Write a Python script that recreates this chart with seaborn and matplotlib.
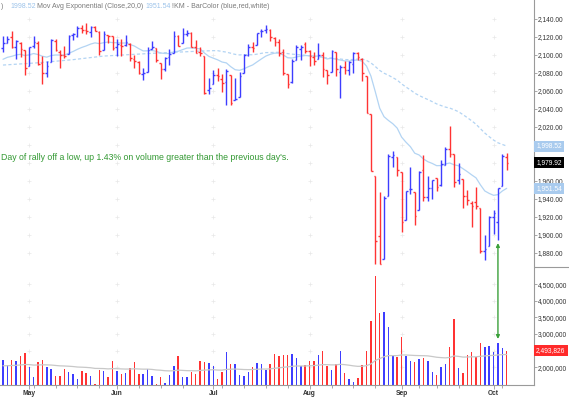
import numpy as np
import pandas as pd
import matplotlib
matplotlib.use("Agg")
import matplotlib.pyplot as plt
import seaborn as sns
from matplotlib.lines import Line2D
from matplotlib.ticker import FuncFormatter, FixedLocator
import matplotlib.transforms as mtransforms

sns.set_style("white")
plt.rcParams['font.family'] = ['Liberation Sans', 'DejaVu Sans']

# ---------------- data ----------------
holidays = pd.to_datetime(["2015-05-25", "2015-07-03", "2015-09-07"])
dates = pd.bdate_range("2015-04-23", "2015-10-06")
dates = dates[~dates.isin(holidays)]

prev_close_before = 2107.96

opens = [2107.2, 2112.8, 2119.3, 2108.4, 2112.5, 2105.5, 2087.4, 2110.2, 2112.6, 2091.3,
         2079.9, 2092.1, 2115.6, 2102.9, 2099.6, 2100.4, 2122.1, 2121.3, 2129.5, 2127.8,
         2125.6, 2130.4, 2125.3, 2105.1, 2122.3, 2120.7, 2108.6, 2110.4, 2110.6, 2112.4,
         2095.1, 2092.3, 2079.1, 2081.0, 2106.2, 2107.4, 2091.3, 2084.3, 2097.4, 2101.6,
         2121.1, 2112.5, 2123.0, 2123.7, 2109.1, 2102.6, 2098.6, 2061.2, 2067.0, 2078.0,
         2073.0, 2069.5, 2077.7, 2049.7, 2052.7, 2080.0, 2099.7, 2109.0, 2110.6, 2126.8,
         2126.9, 2127.6, 2118.2, 2114.2, 2103.0, 2078.2, 2070.0, 2094.0, 2106.8, 2111.6,
         2104.5, 2097.7, 2095.3, 2100.0, 2082.6, 2080.9, 2102.7, 2081.1, 2086.2, 2083.2,
         2089.7, 2101.5, 2095.7, 2076.6, 2034.1, 1965.2, 1898.1, 1872.8, 1942.8, 1986.1,
         1986.7, 1970.1, 1916.5, 1950.8, 1947.8, 1927.3, 1971.5, 1941.6, 1951.5, 1963.1,
         1955.1, 1978.0, 1995.3, 1989.7, 1960.8, 1961.4, 1943.2, 1934.8, 1935.9, 1929.2,
         1881.9, 1887.1, 1919.7, 1913.9, 1954.3, 1986.6]
highs = [2120.5, 2120.9, 2125.9, 2116.0, 2113.6, 2105.5, 2108.4, 2120.9, 2115.2, 2098.4,
         2092.9, 2117.7, 2117.7, 2105.1, 2110.2, 2121.5, 2123.9, 2131.8, 2133.0, 2134.7,
         2131.8, 2132.2, 2126.2, 2126.1, 2122.3, 2120.7, 2117.6, 2117.6, 2121.9, 2112.9,
         2100.2, 2093.0, 2085.7, 2108.5, 2115.0, 2107.4, 2091.3, 2097.4, 2106.8, 2126.6,
         2121.6, 2130.0, 2127.6, 2125.1, 2116.0, 2108.9, 2098.6, 2074.3, 2082.8, 2085.1,
         2078.6, 2083.7, 2077.7, 2074.3, 2081.3, 2100.7, 2111.4, 2114.2, 2124.4, 2128.8,
         2132.8, 2128.9, 2119.6, 2116.9, 2106.0, 2078.2, 2095.6, 2110.6, 2110.5, 2114.2,
         2105.7, 2102.5, 2112.7, 2103.3, 2082.6, 2105.4, 2102.7, 2089.1, 2092.9, 2092.5,
         2102.9, 2103.5, 2096.2, 2076.6, 2034.1, 1965.2, 1948.0, 1943.1, 1989.6, 1993.5,
         1986.7, 1970.1, 1948.9, 1975.0, 1947.8, 1970.4, 1988.6, 1965.3, 1961.1, 1963.1,
         1983.2, 1997.3, 2020.9, 1989.7, 1979.6, 1961.4, 1949.5, 1937.2, 1952.9, 1929.2,
         1899.5, 1920.5, 1927.2, 1951.4, 1989.2, 1991.0]
lows = [2103.2, 2112.8, 2107.0, 2094.9, 2097.4, 2077.6, 2087.4, 2108.0, 2088.5, 2067.9,
        2075.0, 2092.1, 2104.6, 2085.7, 2096.0, 2100.4, 2116.8, 2120.0, 2124.5, 2122.6,
        2120.0, 2126.1, 2099.2, 2105.1, 2112.8, 2104.9, 2099.1, 2099.1, 2109.6, 2093.2,
        2085.7, 2079.1, 2072.1, 2081.0, 2106.2, 2091.8, 2072.5, 2082.1, 2088.9, 2101.6,
        2109.5, 2112.5, 2120.5, 2108.4, 2101.8, 2098.4, 2056.6, 2056.3, 2067.0, 2071.0,
        2058.4, 2044.0, 2044.5, 2049.7, 2052.7, 2080.0, 2098.2, 2102.5, 2110.6, 2119.9,
        2123.7, 2115.4, 2110.0, 2098.6, 2077.1, 2063.5, 2069.1, 2094.0, 2094.1, 2102.1,
        2087.3, 2088.6, 2095.3, 2075.5, 2067.9, 2080.9, 2076.5, 2052.1, 2078.3, 2077.6,
        2079.3, 2094.1, 2070.5, 2035.7, 1970.9, 1867.0, 1867.1, 1872.8, 1942.8, 1975.2,
        1965.5, 1903.1, 1916.5, 1944.7, 1911.2, 1927.3, 1937.9, 1937.2, 1939.2, 1948.3,
        1954.3, 1977.9, 1986.7, 1953.5, 1955.8, 1929.3, 1932.6, 1908.9, 1928.8, 1879.2,
        1871.9, 1887.1, 1900.7, 1893.7, 1954.3, 1971.9]
closes = [2112.93, 2117.69, 2108.92, 2114.76, 2106.85, 2085.51, 2108.29, 2114.49, 2089.46, 2080.15,
          2088.00, 2116.10, 2105.33, 2099.12, 2098.48, 2121.10, 2122.73, 2129.20, 2127.83, 2125.85,
          2130.82, 2126.06, 2104.20, 2123.48, 2120.79, 2107.39, 2111.73, 2109.60, 2114.07, 2095.84,
          2092.83, 2079.28, 2080.15, 2105.20, 2108.86, 2094.11, 2084.43, 2096.29, 2100.44, 2121.24,
          2109.99, 2122.85, 2124.20, 2108.58, 2102.31, 2101.49, 2057.64, 2063.11, 2077.42, 2076.78,
          2068.76, 2081.34, 2046.68, 2051.31, 2076.62, 2099.60, 2108.95, 2107.40, 2124.29, 2126.64,
          2128.28, 2119.21, 2114.15, 2102.15, 2079.65, 2067.64, 2093.25, 2108.57, 2108.63, 2103.84,
          2098.04, 2093.32, 2099.84, 2083.56, 2077.57, 2104.18, 2084.07, 2086.05, 2083.39, 2091.54,
          2102.44, 2096.92, 2079.61, 2035.73, 1970.89, 1893.21, 1867.61, 1940.51, 1987.66, 1988.87,
          1972.18, 1913.85, 1948.86, 1951.13, 1921.22, 1969.41, 1942.04, 1952.29, 1961.05, 1953.03,
          1978.09, 1995.31, 1990.20, 1958.03, 1966.97, 1942.74, 1938.76, 1932.24, 1931.34, 1881.77,
          1884.09, 1920.03, 1923.82, 1951.36, 1987.05, 1979.92]
volume_m = [2.22, 2.06, 2.22, 2.19, 2.33, 2.42, 2.01, 1.71, 2.15, 2.21,
            2.01, 1.95, 1.75, 1.75, 1.94, 1.86, 1.79, 1.65, 1.88, 1.84,
            1.74, 1.49, 1.92, 1.88, 1.70, 2.19, 1.88, 1.79, 1.84, 1.98,
            2.15, 1.79, 1.81, 1.96, 1.74, 1.51, 1.71, 1.53, 1.77, 2.03,
            2.35, 1.71, 1.71, 1.85, 1.79, 2.19, 2.16, 2.13, 2.05, 1.65,
            1.86, 2.46, 2.09, 2.09, 1.76, 1.74, 1.86, 2.02, 2.13, 2.10,
            1.92, 2.11, 2.40, 2.35, 2.36, 2.37, 2.39, 2.28, 2.03, 2.08,
            2.19, 2.19, 2.37, 2.49, 2.03, 1.91, 2.10, 2.50, 1.83, 1.65,
            1.55, 1.68, 2.08, 2.49, 3.39, 4.75, 3.64, 3.67, 3.20, 2.34,
            2.32, 2.90, 2.33, 2.20, 2.17, 2.25, 2.28, 2.20, 1.87, 1.77,
            2.01, 2.10, 2.60, 3.46, 1.98, 1.82, 2.36, 2.45, 2.31, 2.73,
            2.60, 2.64, 2.46, 2.73, 2.58, 2.493826]

# moving-average seeds / early readings (indicator history before the window)
ema_seed = 2093.0
ma50_early_idx = [0, 8, 16, 23, 34, 45, 48]
ma50_early = [2088.5, 2091.0, 2094.5, 2098.5, 2101.5, 2104.0, 2104.5]
volma_seed = 2.04

price_levels = list(range(1880, 2141, 20))
volume_levels = [2.0, 2.5, 3.0, 3.5, 4.0, 4.5]

# ---------------- derived ----------------
n = len(closes)
xi = np.arange(n)
cl = np.array(closes)
prev = np.concatenate([[prev_close_before], cl[:-1]])
BLUE, RED = '#3d3dff', '#ff3333'
cols = np.where(cl >= prev, BLUE, RED)

ema20 = pd.Series([ema_seed] + closes).ewm(span=20, adjust=False).mean().iloc[1:].to_numpy()
sma50 = pd.Series(closes).rolling(50).mean().to_numpy()
ma_x = ma50_early_idx + list(range(49, n))
ma_y = ma50_early + list(sma50[49:])
volma = pd.Series([volma_seed] + volume_m).ewm(span=50, adjust=False).mean().iloc[1:].to_numpy()

months = dates.month
month_idx = [i for i in range(1, n) if months[i] != months[i - 1]]
month_lab = [dates[i].strftime('%b') for i in month_idx]
weeks = dates.isocalendar().week.to_numpy()
month_weeks = {weeks[i] for i in month_idx}
week_idx = [i for i in range(1, n) if weeks[i] != weeks[i - 1] and weeks[i] not in month_weeks]

# ---------------- figure ----------------
W, H = 569, 398
fig = plt.figure(figsize=(W / 100, H / 100), dpi=100)
plot_w = 534 / W
ax_p = fig.add_axes([0, 1 - 267 / H, plot_w, 267 / H])
ax_v = fig.add_axes([0, 1 - 385 / H, plot_w, (385 - 267) / H], sharex=ax_p)

px_per_bar = 4.38
x0 = -3 / px_per_bar
x1 = (534 - 3) / px_per_bar
ax_p.set_xlim(x0, x1)
ax_p.set_ylim(2140 - (267 - 18.7) / 0.9, 2140 + 18.7 / 0.9)
ax_v.set_ylim(2.0 - (385 - 367.3) / 33.3, 2.0 + (367.3 - 267) / 33.3)

for ax in (ax_p, ax_v):
    ax.set_facecolor('white')
    for s in ('top', 'left', 'bottom'):
        ax.spines[s].set_visible(False)
    ax.spines['right'].set_color('#9a9a9a')
    ax.spines['right'].set_linewidth(0.8)
ax_v.spines['bottom'].set_visible(True)
ax_v.spines['bottom'].set_color('#9a9a9a')
ax_v.spines['bottom'].set_linewidth(0.8)

# grid crosses (very faint)
gx, gy = np.meshgrid(month_idx, price_levels)
ax_p.scatter(gx.ravel(), gy.ravel(), marker='+', s=10, color='#e8e8e8', linewidths=0.5, zorder=0)
gx, gy = np.meshgrid(month_idx, volume_levels)
ax_v.scatter(gx.ravel(), gy.ravel(), marker='+', s=10, color='#e8e8e8', linewidths=0.5, zorder=0)

# moving averages
sns.lineplot(x=xi, y=ema20, ax=ax_p, color='#b3d4f3', linewidth=0.9, zorder=1)
sns.lineplot(x=ma_x, y=ma_y, ax=ax_p, color='#b3d4f3', linewidth=0.9, zorder=1,
             linestyle=(0, (2.5, 1.8)))

# OHLC bars
tick = 0.38
ax_p.vlines(xi, lows, highs, colors=cols, linewidth=1.0, zorder=3)
ax_p.hlines(opens, xi - tick, xi, colors=cols, linewidth=1.0, zorder=3)
ax_p.hlines(closes, xi, xi + tick, colors=cols, linewidth=1.0, zorder=3)

# volume
ax_v.bar(xi, volume_m, width=0.33, bottom=0, color=cols, linewidth=0, zorder=2)
sns.lineplot(x=xi, y=volma, ax=ax_v, color='#c8c8c8', linewidth=0.9, zorder=3)

# right axes
ax_p.yaxis.tick_right()
ax_p.set_yticks([p for p in price_levels if p not in (2000, 1980)])
ax_p.yaxis.set_major_formatter(FuncFormatter(lambda v, p: f"{v:,.2f}"))
ax_v.yaxis.tick_right()
ax_v.set_yticks([v for v in volume_levels if v != 2.5])
ax_v.yaxis.set_major_formatter(FuncFormatter(lambda v, p: f"{v * 1e6:,.0f}"))
for ax in (ax_p, ax_v):
    ax.tick_params(axis='y', which='both', right=True, length=2, width=0.6, color='#9a9a9a',
                   labelsize=4.8, labelcolor='#333333', pad=0.8)
ax_p.tick_params(axis='x', which='both', bottom=False, labelbottom=False)
ax_v.set_xticks(month_idx)
ax_v.set_xticklabels(month_lab)
ax_v.xaxis.set_minor_locator(FixedLocator(week_idx))
ax_v.tick_params(axis='x', which='major', bottom=True, length=3, width=0.6, color='#9a9a9a',
                 labelsize=4.8, labelcolor='#333333', pad=0.5)
ax_v.tick_params(axis='x', which='minor', bottom=True, length=2, width=0.6, color='#9a9a9a')
for t in ax_v.get_xticklabels():
    t.set_fontweight('bold')
ax_p.set_xlabel(''); ax_p.set_ylabel(''); ax_v.set_xlabel(''); ax_v.set_ylabel('')

# value boxes on the right axis
def value_box(ax, y, text, fc, tc='white'):
    tr = mtransforms.blended_transform_factory(ax.transAxes, ax.transData)
    ax.text(1.004, y, text, transform=tr, ha='left', va='center', fontsize=4.8, color=tc,
            clip_on=False, zorder=10,
            bbox=dict(boxstyle='square,pad=0.3', fc=fc, ec='none'))

value_box(ax_p, ma_y[-1], f"{ma_y[-1]:,.2f}", '#a9cbee')
value_box(ax_p, closes[-1], f"{closes[-1]:,.2f}", '#000000')
value_box(ax_p, ema20[-1], f"{ema20[-1]:,.2f}", '#a9cbee')
value_box(ax_v, volume_m[-1], f"{volume_m[-1] * 1e6:,.0f}", '#ff2a2a')

# separator in the right margin
fig.add_artist(Line2D([plot_w, 1], [1 - 267 / H] * 2, color='#9a9a9a', linewidth=0.8))

# header legend
hy = 1 - 6 / H
gray, lblue = '#7a7a7a', '#9cc3ea'
fig.text(1 / W, hy, ")", fontsize=5, color=gray, va='center')
fig.text(10 / W, hy, f"{ma_y[-1]:.2f}", fontsize=5, color=lblue, va='center')
fig.text(37 / W, hy, "Mov Avg Exponential (Close,20,0)", fontsize=5, color=gray, va='center')
fig.text(145 / W, hy, f"{ema20[-1]:.2f}", fontsize=5, color=lblue, va='center')
fig.text(172 / W, hy, "!KM - BarColor (blue,red,white)", fontsize=5, color=gray, va='center')

# annotation
fig.text(1 / W, 1 - 157 / H,
         "Day of rally off a low, up 1.43% on volume greater than the previous day's.",
         fontsize=6.35, color='#339933', va='center', ha='left')
ai = 113
ax_v.annotate('', xy=(ai, volume_m[ai] + 0.12), xycoords='data',
              xytext=(ai, lows[ai] - 3), textcoords=ax_p.transData,
              arrowprops=dict(arrowstyle='<|-|>', color='#3aa03a', lw=1.0,
                              mutation_scale=5, shrinkA=0, shrinkB=0),
              annotation_clip=False, zorder=12)

fig.savefig("out.png", dpi=100)
